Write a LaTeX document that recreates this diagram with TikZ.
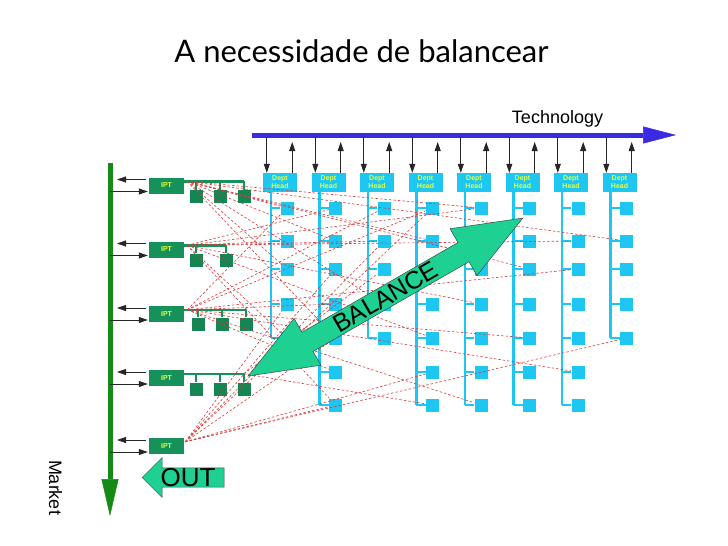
\documentclass[tikz,border=0pt]{standalone}
\usepackage{fontspec}
\setmainfont{Liberation Sans}
\newfontfamily\titlefont{Lato}
\usepackage{tikz}
\usetikzlibrary{arrows.meta,positioning,calc,shapes.arrows}
\definecolor{iptgreen}{HTML}{17915A}
\definecolor{mktgreen}{HTML}{168A16}
\definecolor{deptcyan}{HTML}{1EC6F2}
\definecolor{techblue}{HTML}{3A2AE2}
\definecolor{balgreen}{HTML}{1ED091}
\definecolor{linkred}{HTML}{D83A3A}
\definecolor{lblyellow}{HTML}{E8FF3C}

\begin{document}
\begin{tikzpicture}[x=1pt,y=-1pt,
  ipt/.style={rectangle,fill=iptgreen,minimum width=35pt,minimum height=16pt,inner sep=0pt,text=lblyellow,font=\bfseries\fontsize{7}{8}\selectfont},
  gsq/.style={rectangle,fill=iptgreen!92!black,minimum size=13pt,inner sep=0pt},
  gbar/.style={draw=iptgreen,line width=2.5pt},
  dept/.style={rectangle,fill=deptcyan,minimum width=34pt,minimum height=19pt,inner sep=0pt,align=center,text=lblyellow,font=\bfseries\fontsize{7}{8}\selectfont},
  dsq/.style={rectangle,fill=deptcyan,minimum size=13pt,inner sep=0pt},
  dline/.style={draw=deptcyan,line width=2.5pt},
  harr/.style={-{Triangle[length=9pt,width=6pt]},line width=0.8pt,draw=black!85},
  market/.style={-{Triangle[length=37pt,width=17pt,line width=0.5pt]},line width=5pt,draw=mktgreen},
  tech/.style={-{Triangle[length=33pt,width=17pt,line width=0.5pt]},line width=5pt,draw=techblue},
  link/.style={draw=linkred,line width=0.6pt,dash pattern=on 2.5pt off 2pt},
  balarr/.style={double arrow,draw=black!80,fill=balgreen,double arrow head extend=13pt,double arrow tip angle=43,inner sep=0pt,font=\fontsize{25}{25}\selectfont},
  outarr/.style={single arrow,draw=black!70,fill=balgreen,single arrow head extend=10pt,shape border rotate=180,inner sep=0pt,font=\fontsize{26}{26}\selectfont}
]
\fill[white] (0,0) rectangle (728,546);
\node[font=\titlefont\fontsize{31}{31}\selectfont,anchor=base] (title) at (361.5,62) {A necessidade de balancear};

\coordinate (tk) at (252,135); \coordinate (tkend) at (676,135);
\draw[tech] (tk) -- (tkend);
\node (techlbl) at (557.5,118.5) {\fontsize{18}{18}\selectfont Technology};

\coordinate (mk) at (110,163); \coordinate (mkend) at (110,516);
\draw[market] (mk) -- (mkend);
\node[rotate=-90] (mktlbl) at (55.5,487.5) {\fontsize{18}{18}\selectfont Market};

\foreach \c/\n in {1/5,2/7,3/5,4/7,5/7,6/7,7/7,8/5}{
  \node[dept] (dh\c) at ({280+48.5*(\c-1)},182.5) {Dept\\Head};
  \draw[harr] ($(dh\c.north west |- tk)+(4,2)$) -- ($(dh\c.north west)+(4,0)$);
  \draw[harr] ($(dh\c.north east)+(-5,0)$) -- ($(dh\c.north east |- tk)+(-5,7)$);
  \coordinate (ln\c) at ($(dh\c.south west)+(8,0)$);
  \foreach \r in {1,...,\n}{
    \pgfmathsetmacro{\ry}{{208,241,269,304,338,372,405}[\r-1]}
    \node[dsq] (t\c-\r) at ({287+48.5*(\c-1)},\ry) {};
    \draw[dline,line width=2pt] (ln\c |- t\c-\r) -- (t\c-\r);
  }
  \draw[dline] (ln\c) -- (ln\c |- t\c-\n);
}

\node[ipt] (ipt1) at (166.5,185.5) {IPT};
\node[ipt] (ipt2) at (166.5,249.5) {IPT};
\node[ipt] (ipt3) at (166.5,314) {IPT};
\node[ipt] (ipt4) at (166.5,378) {IPT};
\node[ipt] (ipt5) at (166.5,446) {IPT};
\foreach \i in {1,...,5}{
  \draw[harr] ($(ipt\i.west)+(-3,-6)$) -- ($(ipt\i.west -| mk)+(7,-6)$);
  \draw[harr] ($(ipt\i.west -| mk)+(0,6)$) -- ($(ipt\i.west)+(-1,6)$);
}

\node[gsq] (g1-1) at (196,196.5) {}; \node[gsq] (g1-2) at (220,196.5) {}; \node[gsq] (g1-3) at (244,196.5) {};
\node[gsq] (g2-1) at (196,260) {}; \node[gsq] (g2-2) at (226,260) {};
\node[gsq] (g3-1) at (198,324) {}; \node[gsq] (g3-2) at (222,324) {}; \node[gsq] (g3-3) at (246,324) {};
\node[gsq] (g4-1) at (196,389) {}; \node[gsq] (g4-2) at (220,389) {}; \node[gsq] (g4-3) at (244,389) {};
\coordinate (b1) at ($(ipt1.north east)+(0,4)$); \coordinate (b2) at ($(ipt2.north east)+(0,4)$);
\coordinate (b3) at ($(ipt3.north east)+(0,4)$); \coordinate (b4) at ($(ipt4.north east)+(0,4)$);
\draw[gbar] (b1) -- (b1 -| g1-3); \draw[gbar] (b2) -- (b2 -| g2-2);
\draw[gbar] (b3) -- (b3 -| g3-3); \draw[gbar] (b4) -- (b4 -| g4-3);
\foreach \k in {1,2,3}{\draw[gbar,line width=2pt] (b1 -| g1-\k) -- (g1-\k); \draw[gbar,line width=2pt] (b3 -| g3-\k) -- (g3-\k); \draw[gbar,line width=2pt] (b4 -| g4-\k) -- (g4-\k);}
\foreach \k in {1,2}{\draw[gbar,line width=2pt] (b2 -| g2-\k) -- (g2-\k);}

\coordinate (o1) at ($(b1)+(3,0)$); \coordinate (o2) at ($(b2)+(3,0)$);
\coordinate (o3) at ($(b3)+(3,0)$); \coordinate (o4) at (b4 -| g4-3);
\coordinate (o5) at ($(ipt5.north east)+(1,4)$);
\draw[link] (o1)--(t8-2); \draw[link] (o1)--(t5-1); \draw[link] (o1)--(t6-3); \draw[link] (o1)--(t1-3);
\draw[link] (o1)--(t2-5); \draw[link] (o1)--(t3-4); \draw[link] (o1)--(t1-1); \draw[link] (o1)--(t4-2);
\draw[link] (o1)--(t2-2);
\draw[link] (o2)--(t7-2); \draw[link] (o2)--(t2-1); \draw[link] (o2)--(t5-4); \draw[link] (o2)--(t4-5);
\draw[link] (o2)--(t1-5); \draw[link] (o2)--(t3-2); \draw[link] (o2)--(t2-7); \draw[link] (o2)--(t5-1);
\draw[link] (o2)--(t1-2);
\draw[link] (o3)--(t7-3); \draw[link] (o3)--(t7-6); \draw[link] (o3)--(t5-7); \draw[link] (o3)--(t1-1);
\draw[link] (o3)--(t2-4); \draw[link] (o3)--(t3-1); \draw[link] (o3)--(t4-1); \draw[link] (o3)--(t6-5);
\draw[link] (o3)--(t2-6);
\draw[link] (o4)--(t3-3); \draw[link] (o4)--(t4-7);
\draw[link] (o5)--(t8-5); \draw[link] (o5)--(t4-6); \draw[link] (o5)--(t2-7); \draw[link] (o5)--(t2-5);
\draw[link] (o5)--(t1-4); \draw[link] (o5)--(t2-3); \draw[link] (o5)--(t3-2); \draw[link] (o5)--(t4-1);

\node[balarr,rotate=29.9,minimum height=317pt,minimum width=54pt] (bal) at (385.5,297) {BALANCE};
\node[outarr,minimum height=82pt,minimum width=40pt] (out) at (188,477.5) {OUT};
\end{tikzpicture}
\end{document}
